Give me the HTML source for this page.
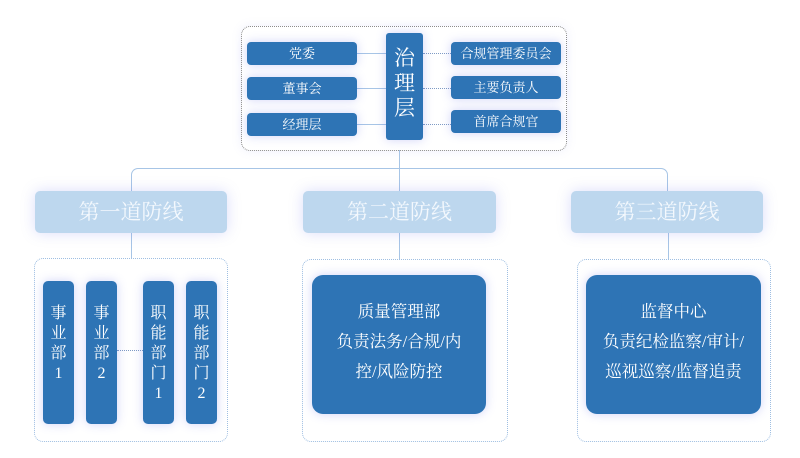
<!DOCTYPE html>
<html><head><meta charset="utf-8"><style>
*{margin:0;padding:0;box-sizing:border-box}
html,body{width:800px;height:458px;background:#fff;overflow:hidden}
body{position:relative;font-family:"Liberation Serif","Noto Serif CJK SC",serif}
.a{position:absolute}
.db{position:absolute;background:#2e74b5;color:#fff;box-shadow:0 0 10px rgba(90,100,230,0.28)}
.sm{border-radius:4px;font-size:13px;line-height:23px;text-align:center}
.band{position:absolute;background:#bdd7ee;border-radius:5px;color:#f3f8fd;font-size:21px;text-align:center;line-height:42px;box-shadow:0 0 14px rgba(110,120,235,0.25);top:191px;height:42px}
.cont{position:absolute;border:1px dotted #9fbfe2;border-radius:9px;background:#fff}
.col{border-radius:5px;font-size:16px;line-height:20px;text-align:center;padding-top:23px;top:281px;height:143px;width:31px}
.ln{position:absolute;background:#a7c5e6}
.dot{position:absolute;border-top:1px dotted #7f9bc4;height:0}
.big{border-radius:11px;font-size:16.5px;line-height:30px;text-align:center;top:275px;height:139px;padding-top:22px}
</style></head><body>

<!-- top container -->
<div class="a" style="left:241px;top:26px;width:326px;height:125px;border:1px dotted #8c8c8c;border-radius:9px;background:#fff;box-shadow:0 0 10px rgba(120,130,230,0.12)"></div>

<!-- connectors in top container -->
<div class="ln" style="left:357px;top:53px;width:30px;height:1px"></div>
<div class="ln" style="left:357px;top:88px;width:30px;height:1px"></div>
<div class="ln" style="left:357px;top:124px;width:30px;height:1px"></div>
<div class="dot" style="left:423px;top:53px;width:28px"></div>
<div class="dot" style="left:423px;top:88px;width:28px"></div>
<div class="dot" style="left:423px;top:124px;width:28px"></div>

<div class="db sm" style="left:247px;top:42px;width:110px;height:23px">党委</div>
<div class="db sm" style="left:247px;top:77px;width:110px;height:23px">董事会</div>
<div class="db sm" style="left:247px;top:113px;width:110px;height:23px">经理层</div>

<div class="db" style="left:386px;top:33px;width:37px;height:107px;border-radius:3px;font-size:21px;line-height:25px;text-align:center;padding-top:13px">治<br>理<br>层</div>

<div class="db sm" style="left:451px;top:42px;width:110px;height:23px">合规管理委员会</div>
<div class="db sm" style="left:451px;top:76px;width:110px;height:23px">主要负责人</div>
<div class="db sm" style="left:451px;top:110px;width:110px;height:23px">首席合规官</div>

<!-- tree connectors -->
<div class="ln" style="left:399px;top:150px;width:1px;height:41px"></div>
<div class="a" style="left:131px;top:168px;width:537px;height:24px;border:1px solid #a7c5e6;border-bottom:none;border-radius:7px 7px 0 0"></div>
<div class="ln" style="left:131px;top:233px;width:1px;height:26px"></div>
<div class="ln" style="left:399px;top:233px;width:1px;height:26px"></div>
<div class="ln" style="left:668px;top:233px;width:1px;height:26px"></div>

<!-- bands -->
<div class="band" style="left:35px;width:192px">第一道防线</div>
<div class="band" style="left:303px;width:193px">第二道防线</div>
<div class="band" style="left:571px;width:192px">第三道防线</div>

<!-- containers -->
<div class="cont" style="left:34px;top:258px;width:194px;height:184px"></div>
<div class="cont" style="left:302px;top:259px;width:206px;height:183px"></div>
<div class="cont" style="left:577px;top:259px;width:194px;height:183px"></div>

<!-- first line columns -->
<div class="dot" style="left:117px;top:350px;width:26px"></div>
<div class="db col" style="left:43px">事<br>业<br>部<br>1</div>
<div class="db col" style="left:86px">事<br>业<br>部<br>2</div>
<div class="db col" style="left:143px">职<br>能<br>部<br>门<br>1</div>
<div class="db col" style="left:186px">职<br>能<br>部<br>门<br>2</div>

<!-- second / third -->
<div class="db big" style="left:312px;width:174px">质量管理部<br>负责法务/合规/内<br>控/风险防控</div>
<div class="db big" style="left:586px;width:175px">监督中心<br>负责纪检监察/审计/<br>巡视巡察/监督追责</div>

</body></html>
